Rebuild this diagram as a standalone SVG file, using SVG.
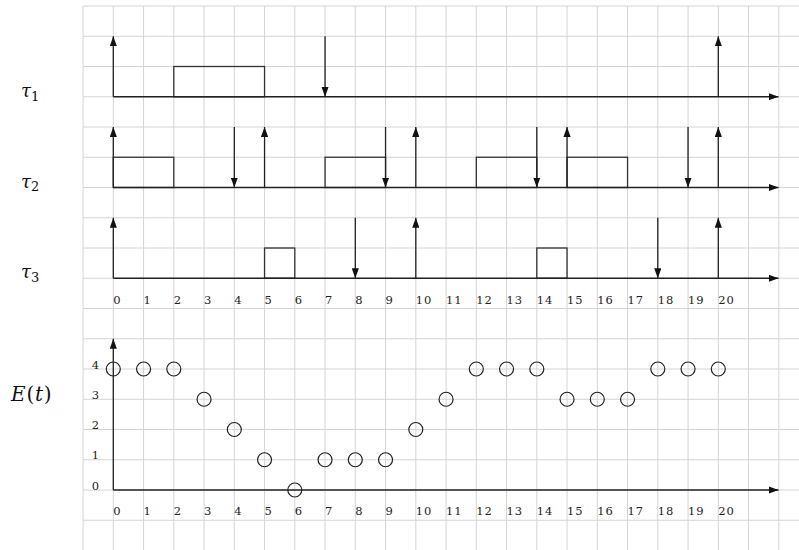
<svg xmlns="http://www.w3.org/2000/svg" width="799" height="550" viewBox="0 0 799 550">
<style>
.grid{stroke:#d4d4d4;stroke-width:1;fill:none}
.ax{stroke:#333;stroke-width:1.3;fill:none}
.box{stroke:#333;stroke-width:1.3;fill:none}
.arr{stroke:#222;stroke-width:1.3;fill:none;marker-end:url(#ah)}
.pt{stroke:#222;stroke-width:1.2;fill:none}
.num{font-family:"DejaVu Serif",serif;font-size:11.5px;fill:#222;letter-spacing:1px}
.lab{font-family:"DejaVu Serif",serif;fill:#111}
</style>
<defs>
<marker id="ah" markerUnits="userSpaceOnUse" markerWidth="10" markerHeight="7.2" refX="10" refY="3.6" orient="auto">
<path d="M0,0 L10,3.6 L0,7.2 z" fill="#111"/>
</marker>
</defs>
<rect width="799" height="550" fill="#fff"/>
<g id="grid" class="grid">
<path d="M83.05 6V550M113.3 6V550M143.55 6V550M173.8 6V550M204.05 6V550M234.3 6V550M264.55 6V550M294.8 6V550M325.05 6V550M355.3 6V550M385.55 6V550M415.8 6V550M446.05 6V550M476.3 6V550M506.55 6V550M536.8 6V550M567.05 6V550M597.3 6V550M627.55 6V550M657.8 6V550M688.05 6V550M718.3 6V550M748.55 6V550M778.8 6V550"/>
<path d="M83.05 6H799M83.05 36.25H799M83.05 66.5H799M83.05 96.75H799M83.05 127H799M83.05 157.25H799M83.05 187.5H799M83.05 217.75H799M83.05 248H799M83.05 278.25H799M83.05 308.5H799M83.05 338.75H799M83.05 369H799M83.05 399.25H799M83.05 429.5H799M83.05 459.75H799M83.05 490H799M83.05 520.25H799"/>
</g>
<g id="labels">
<text class="lab" x="21" y="96.7" font-size="18" font-style="italic">τ<tspan font-size="13" font-style="normal" dy="3.8">1</tspan></text>
<text class="lab" x="21" y="187.5" font-size="18" font-style="italic">τ<tspan font-size="13" font-style="normal" dy="3.8">2</tspan></text>
<text class="lab" x="21" y="278.2" font-size="18" font-style="italic">τ<tspan font-size="13" font-style="normal" dy="3.8">3</tspan></text>
<text class="lab" x="11" y="400.5" font-size="20" letter-spacing="0.8"><tspan font-style="italic">E</tspan>(<tspan font-style="italic">t</tspan>)</text>
</g>
<g id="task1">
<rect class="box" x="173.8" y="66.5" width="90.75" height="30.25"/>
</g>
<g id="task2">
<rect class="box" x="113.3" y="157.25" width="60.5" height="30.25"/>
<rect class="box" x="325.05" y="157.25" width="60.5" height="30.25"/>
<rect class="box" x="476.3" y="157.25" width="60.5" height="30.25"/>
<rect class="box" x="567.05" y="157.25" width="60.5" height="30.25"/>
</g>
<g id="task3">
<rect class="box" x="264.55" y="248" width="30.25" height="30.25"/>
<rect class="box" x="536.8" y="248" width="30.25" height="30.25"/>
</g>
<g id="connectors">
<line class="arr" x1="113.3" y1="96.75" x2="778.5" y2="96.75"/>
<line class="arr" x1="113.3" y1="187.5" x2="778.5" y2="187.5"/>
<line class="arr" x1="113.3" y1="278.25" x2="778.5" y2="278.25"/>
<line class="arr" x1="113.3" y1="490" x2="778.5" y2="490"/>
<line class="arr" x1="113.3" y1="490" x2="113.3" y2="338.75"/>
<line class="arr" x1="113.3" y1="96.75" x2="113.3" y2="36.25"/>
<line class="arr" x1="718.3" y1="96.75" x2="718.3" y2="36.25"/>
<line class="arr" x1="325.05" y1="36.25" x2="325.05" y2="96.75"/>
<line class="arr" x1="113.3" y1="187.5" x2="113.3" y2="127"/>
<line class="arr" x1="264.55" y1="187.5" x2="264.55" y2="127"/>
<line class="arr" x1="415.8" y1="187.5" x2="415.8" y2="127"/>
<line class="arr" x1="567.05" y1="187.5" x2="567.05" y2="127"/>
<line class="arr" x1="718.3" y1="187.5" x2="718.3" y2="127"/>
<line class="arr" x1="234.3" y1="127" x2="234.3" y2="187.5"/>
<line class="arr" x1="385.55" y1="127" x2="385.55" y2="187.5"/>
<line class="arr" x1="536.8" y1="127" x2="536.8" y2="187.5"/>
<line class="arr" x1="688.05" y1="127" x2="688.05" y2="187.5"/>
<line class="arr" x1="113.3" y1="278.25" x2="113.3" y2="217.75"/>
<line class="arr" x1="415.8" y1="278.25" x2="415.8" y2="217.75"/>
<line class="arr" x1="718.3" y1="278.25" x2="718.3" y2="217.75"/>
<line class="arr" x1="355.3" y1="217.75" x2="355.3" y2="278.25"/>
<line class="arr" x1="657.8" y1="217.75" x2="657.8" y2="278.25"/>
</g>
<g id="ticks-top" class="num">
<text x="113.3" y="303.5">0</text><text x="143.55" y="303.5">1</text><text x="173.8" y="303.5">2</text><text x="204.05" y="303.5">3</text><text x="234.3" y="303.5">4</text><text x="264.55" y="303.5">5</text><text x="294.8" y="303.5">6</text><text x="325.05" y="303.5">7</text><text x="355.3" y="303.5">8</text><text x="385.55" y="303.5">9</text><text x="415.8" y="303.5">10</text><text x="446.05" y="303.5">11</text><text x="476.3" y="303.5">12</text><text x="506.55" y="303.5">13</text><text x="536.8" y="303.5">14</text><text x="567.05" y="303.5">15</text><text x="597.3" y="303.5">16</text><text x="627.55" y="303.5">17</text><text x="657.8" y="303.5">18</text><text x="688.05" y="303.5">19</text><text x="718.3" y="303.5">20</text>
</g>
<g id="ticks-bottom" class="num">
<text x="113.3" y="514.5">0</text><text x="143.55" y="514.5">1</text><text x="173.8" y="514.5">2</text><text x="204.05" y="514.5">3</text><text x="234.3" y="514.5">4</text><text x="264.55" y="514.5">5</text><text x="294.8" y="514.5">6</text><text x="325.05" y="514.5">7</text><text x="355.3" y="514.5">8</text><text x="385.55" y="514.5">9</text><text x="415.8" y="514.5">10</text><text x="446.05" y="514.5">11</text><text x="476.3" y="514.5">12</text><text x="506.55" y="514.5">13</text><text x="536.8" y="514.5">14</text><text x="567.05" y="514.5">15</text><text x="597.3" y="514.5">16</text><text x="627.55" y="514.5">17</text><text x="657.8" y="514.5">18</text><text x="688.05" y="514.5">19</text><text x="718.3" y="514.5">20</text>
</g>
<g id="ticks-energy" class="num">
<text x="91.7" y="368.5">4</text><text x="91.7" y="398.8">3</text><text x="91.7" y="429">2</text><text x="91.7" y="459.3">1</text><text x="91.7" y="489.5">0</text>
</g>
<g id="energy" class="pt">
<circle cx="113.3" cy="369" r="7"/><circle cx="143.55" cy="369" r="7"/><circle cx="173.8" cy="369" r="7"/><circle cx="204.05" cy="399.25" r="7"/><circle cx="234.3" cy="429.5" r="7"/><circle cx="264.55" cy="459.75" r="7"/><circle cx="294.8" cy="490" r="7"/><circle cx="325.05" cy="459.75" r="7"/><circle cx="355.3" cy="459.75" r="7"/><circle cx="385.55" cy="459.75" r="7"/><circle cx="415.8" cy="429.5" r="7"/><circle cx="446.05" cy="399.25" r="7"/><circle cx="476.3" cy="369" r="7"/><circle cx="506.55" cy="369" r="7"/><circle cx="536.8" cy="369" r="7"/><circle cx="567.05" cy="399.25" r="7"/><circle cx="597.3" cy="399.25" r="7"/><circle cx="627.55" cy="399.25" r="7"/><circle cx="657.8" cy="369" r="7"/><circle cx="688.05" cy="369" r="7"/><circle cx="718.3" cy="369" r="7"/>
</g>
</svg>
